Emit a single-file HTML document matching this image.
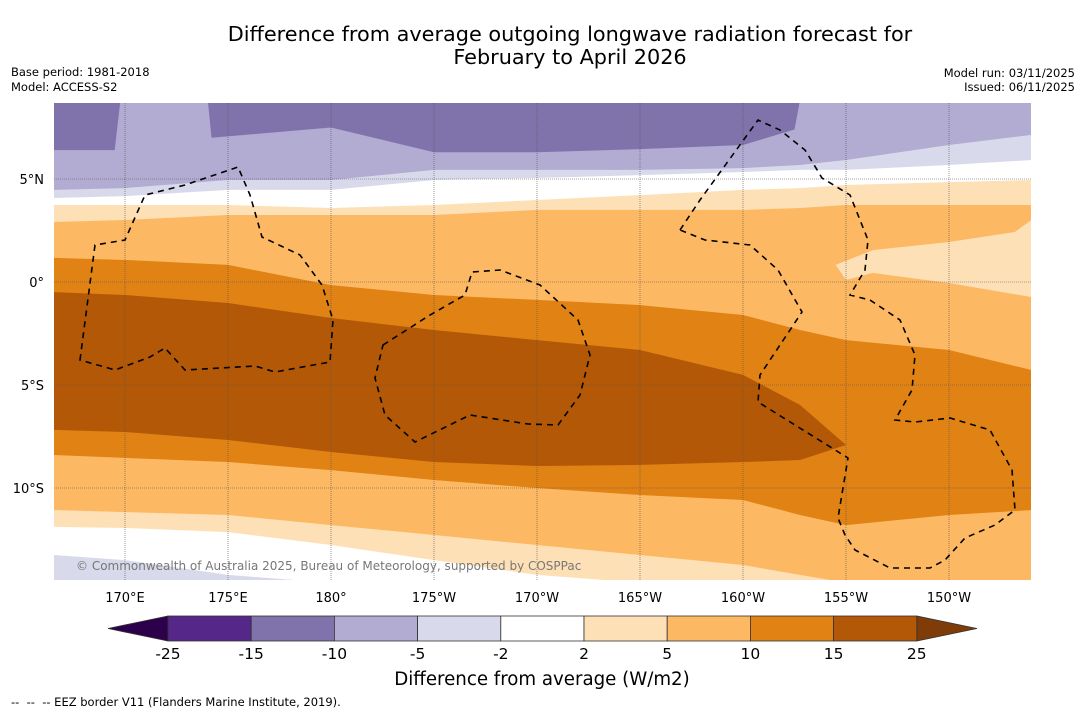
<!DOCTYPE html>
<html><head><meta charset="utf-8"><style>
body{margin:0;background:#fff;width:1085px;height:713px;overflow:hidden;font-family:"Liberation Sans","DejaVu Sans",sans-serif}
svg{position:absolute;left:0;top:0}
</style></head><body>
<svg id="chart" width="1085" height="713" font-family="DejaVu Sans, Liberation Sans, sans-serif">
<text x="570" y="41" font-size="20.8" text-anchor="middle">Difference from average outgoing longwave radiation forecast for</text>
<text x="570" y="64" font-size="20.8" text-anchor="middle">February to April 2026</text>
<text x="11" y="76" font-size="11.5">Base period: 1981-2018</text>
<text x="11" y="91" font-size="11.5">Model: ACCESS-S2</text>
<text x="1075" y="77" font-size="11.5" text-anchor="end">Model run: 03/11/2025</text>
<text x="1075" y="91" font-size="11.5" text-anchor="end">Issued: 06/11/2025</text>
<defs><clipPath id="mapclip"><rect x="54" y="103" width="977" height="477"/></clipPath></defs>
<g id="map" clip-path="url(#mapclip)"></g>
<g id="eez" clip-path="url(#mapclip)" fill="none" stroke="#000" stroke-width="1.6" stroke-dasharray="6,5">
<path d="M80,360 L95,245 L125,240 L145,195 L185,185 L238,167 L250,195 L262,237 L300,255 L322,285 L333,320 L330,362 L275,372 L255,366 L185,370 L165,348 L150,357 L115,370 Z"/>
<path d="M383,345 L430,315 L465,295 L472,272 L500,270 L540,285 L578,320 L590,355 L580,395 L558,425 L528,424 L470,415 L415,442 L385,415 L375,378 Z"/>
<path d="M680,230 L700,200 L758,120 L780,130 L805,150 L822,178 L850,195 L868,240 L865,270 L850,295 L870,300 L900,320 L915,355 L912,390 L895,420 L915,422 L950,418 L990,430 L1012,470 L1015,510 L995,525 L965,538 L945,560 L930,568 L890,568 L855,550 L845,535 L838,518 L848,458 L758,402 L760,375 L780,345 L802,312 L778,270 L750,245 L705,240 Z"/>
</g>
<text x="76" y="570" font-size="12" fill="#777">© Commonwealth of Australia 2025, Bureau of Meteorology, supported by COSPPac</text>
<g id="cbar"></g>
<text x="542" y="685" font-size="18.2" text-anchor="middle">Difference from average (W/m2)</text>
<text x="11" y="706" font-size="11.5" xml:space="preserve">--  --  -- EEZ border V11 (Flanders Marine Institute, 2019).</text>
</svg>
<script>
const lons=[166.55,170,175,180,185,190,195,200,202.77,205,210,214];
const bA_lon=[166.55,169.5,169.8,174,174.2,180,185,190,195,200,202.5,202.8,214];
const bA=[6.4,6.4,9,9,7.0,7.5,6.3,6.3,6.45,6.65,7.4,9,9];
const bB=[4.47,4.56,4.95,4.95,5.44,5.44,5.44,5.53,5.68,5.92,6.65,7.14];
const bC=[4.08,4.17,4.47,4.47,4.95,5.05,5.19,5.34,5.44,5.44,5.68,5.92];
const bD=[3.74,3.74,3.74,3.59,3.74,3.98,4.22,4.47,4.56,4.71,4.85,4.95];
const bE=[2.91,3.01,3.25,3.25,3.25,3.50,3.50,3.50,3.59,3.74,3.74,3.74];
const bF=[1.17,1.07,0.83,-0.15,-0.63,-0.87,-1.12,-1.60,-2.33,-2.82,-3.30,-4.27];
const bG=[-0.49,-0.63,-1.02,-1.75,-2.33,-2.82,-3.30,-4.51,-5.97,-7.91,-7.91,-7.91];
const bH=[-7.18,-7.28,-7.67,-8.25,-8.74,-8.93,-8.88,-8.74,-8.64,-7.91,-7.91,-7.91];
const bI=[-8.40,-8.54,-8.74,-9.13,-9.61,-10.0,-10.34,-10.58,-11.31,-11.80,-11.31,-11.07];
const bJ=[-11.07,-11.17,-11.31,-11.80,-12.28,-12.77,-13.25,-13.74,-14.22,-14.6,-14.6,-14.6];
const bK=[-11.89,-11.94,-12.14,-12.77,-13.50,-14.22,-14.6,-14.6,-14.6,-14.6,-14.6,-14.6];
const bL=[-13.25,-13.50,-14.22,-14.6,-14.6,-14.6,-14.6,-14.6,-14.6,-14.6,-14.6,-14.6];
const patchLon=[204.5,206.3,210,213.2,214,214,210,206.3,205];
const patchLat=[0.83,1.55,1.94,2.43,3.01,-0.73,-0.05,0.44,0.1];
const levels=[-25,-15,-10,-5,-2,2,5,10,15,25];
const colors=["#542788","#8073ac","#b2abd2","#d8daeb","#ffffff","#fee0b6","#fdb863","#e08214","#b35806"];
const lonTicks=[170,175,180,185,190,195,200,205,210];
const lonLabels=["170°E","175°E","180°","175°W","170°W","165°W","160°W","155°W","150°W"];
const latTicks=[5,0,-5,-10];
const latLabels=["5°N","0°","5°S","10°S"];
const NS="http://www.w3.org/2000/svg";
const X=lon=>125+(lon-170)*20.6;
const Y=lat=>282-lat*20.6;
const map=document.getElementById('map');
function mk(t,a,p){const e=document.createElementNS(NS,t);for(const k in a)e.setAttribute(k,a[k]);p.appendChild(e);return e;}
function fillBelow(lo,la,col,name){
  let d='M'+X(lo[0]-1)+','+Y(la[0]);
  lo.forEach((l,i)=>d+=' L'+X(l)+','+Y(la[i]));
  d+=' L'+X(lo[lo.length-1]+1)+','+Y(la[la.length-1])+' L1100,700 L40,700 Z';
  const p=mk('path',{d:d,fill:col},map);
  
  
}
const bg=mk('rect',{x:54,y:103,width:977,height:477,fill:colors[1]},map);


fillBelow(bA_lon,bA,colors[2],'band-minus10-minus5');
fillBelow(lons,bB,colors[3],'band-minus5-minus2');
fillBelow(lons,bC,colors[4],'band-neutral');
fillBelow(lons,bD,colors[5],'band-2-5');
fillBelow(lons,bE,colors[6],'band-5-10');
fillBelow(lons,bF,colors[7],'band-10-15');
fillBelow(lons,bG,colors[8],'band-15-25');
fillBelow(lons,bH,colors[7],'band-10-15-south');
fillBelow(lons,bI,colors[6],'band-5-10-south');
fillBelow(lons,bJ,colors[5],'band-2-5-south');
fillBelow(lons,bK,colors[4],'band-neutral-south');
fillBelow(lons,bL,colors[3],'band-minus5-minus2-south');
{let d='';patchLon.forEach((l,i)=>d+=(i?' L':'M')+X(l)+','+Y(patchLat[i]));
const p=mk('path',{d:d+' Z',fill:colors[5]},map);

}
const svg=document.getElementById('chart');
lonTicks.forEach((l,i)=>{
  const g=mk('line',{x1:X(l),x2:X(l),y1:103,y2:580,stroke:'#555','stroke-width':0.6,'stroke-dasharray':'1,1'},map);
  
  
  const t=mk('text',{x:X(l),y:602,'font-size':13,'text-anchor':'middle'},svg);
  t.textContent=lonLabels[i];
  
  
});
latTicks.forEach((l,i)=>{
  const g=mk('line',{x1:54,x2:1031,y1:Y(l),y2:Y(l),stroke:'#555','stroke-width':0.6,'stroke-dasharray':'1,1'},map);
  
  
  const t=mk('text',{x:44,y:Y(l)+5,'font-size':13,'text-anchor':'end'},svg);
  t.textContent=latLabels[i];
  
  
});
const cb=document.getElementById('cbar');
const cx0=168,cw=83.2,cy=616,ch=25;
const lt=mk('path',{d:`M108,${cy+ch/2} L${cx0},${cy} L${cx0},${cy+ch} Z`,fill:'#2d004b',stroke:'#333','stroke-width':0.8},cb);


const xe=cx0+cw*colors.length;
const rt=mk('path',{d:`M977,${cy+ch/2} L${xe},${cy} L${xe},${cy+ch} Z`,fill:'#7f3b08',stroke:'#333','stroke-width':0.8},cb);


colors.forEach((c,i)=>{
  const r=mk('rect',{x:cx0+i*cw,y:cy,width:cw,height:ch,fill:c,stroke:'#333','stroke-width':0.8},cb);
  
  
});
levels.forEach((v,i)=>{
  const t=mk('text',{x:cx0+i*cw,y:659,'font-size':15.5,'text-anchor':'middle'},cb);
  t.textContent=v;
  
  
});
</script>
</body></html>
